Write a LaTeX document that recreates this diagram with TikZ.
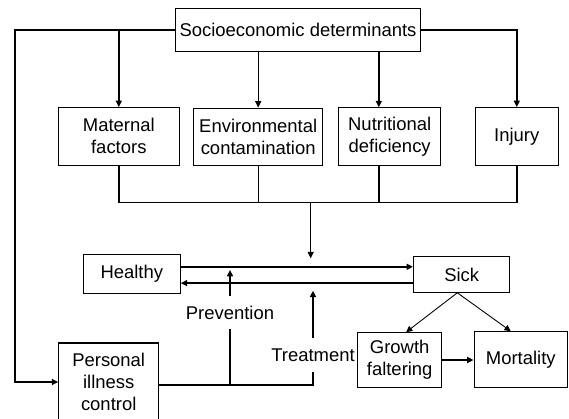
\documentclass[tikz,border=0pt]{standalone}
\usepackage{fontspec}
\setmainfont{Liberation Sans}
\usetikzlibrary{arrows.meta}
\tikzset{
  box/.style={rectangle,draw,line width=.6pt,align=center,inner sep=1pt},
  lbl/.style={inner xsep=1pt,inner ysep=5.6pt},
  thk/.style={line width=.85pt},
  thn/.style={line width=.5pt}
}

\begin{document}
\begin{tikzpicture}[x=.02cm,y=-.02cm,>={Triangle[length=3.6pt,width=3.4pt]},font=\fontsize{10.5}{12.6}\selectfont]
\useasboundingbox (0,0) rectangle (569,419);
%top row
\node[box,minimum width=4.91cm,minimum height=.87cm](socio)at(298,30){Socioeconomic determinants};
\node[box,minimum width=2.41cm,minimum height=1.15cm](maternal)at(118.8,136.3){Maternal\\factors};
\node[box,minimum width=2.57cm,minimum height=1.15cm](env)at(258.2,136.8){Environmental\\contamination};
\node[box,minimum width=2.05cm,minimum height=1.15cm](nutr)at(389.7,136.5){Nutritional\\deficiency};
\node[box,minimum width=1.66cm,minimum height=1.16cm](injury)at(516.8,136.5){Injury};
%middle row
\node[box,minimum width=1.94cm,minimum height=.77cm](healthy)at(131.8,274){Healthy};
\node[box,minimum width=1.93cm,minimum height=.71cm](sick)at(461.7,274.5){Sick};
%bottom row
\node[box,minimum width=2cm,minimum height=1.56cm](personal)at(108.7,382){Personal\\illness\\control};
\node[box,minimum width=1.69cm,minimum height=1.09cm](growth)at(399.7,360){Growth\\faltering};
\node[box,minimum width=1.87cm,minimum height=1.11cm](mortality)at(520.8,359.5){Mortality};
%labels
\node[lbl](prev)at(230,312.5){Prevention};
\node[lbl](treat)at(313,355){Treatment};
%free ends
\coordinate(corner)at(15,30);
\coordinate(bus)at(310.7,202.3);
\coordinate(dtip)at(310.7,258.3);
\coordinate(split)at(313,385);
\coordinate(ptip)at(230,270);
\coordinate(ttip)at(313,290.7);
%determinants
\draw[thk,->](socio.west)--(corner)|-(personal.west);
\draw[thk,->](maternal.north|-socio.west)--(maternal.north);
\draw[thn,->](socio.south-|env.north)--(env.north);
\draw[thk,->]([xshift=-6.2pt]nutr.north|-socio.south)--([xshift=-6.2pt]nutr.north);
\draw[thk,->](socio.east)-|(injury.north);
%bus
\draw[thk](maternal.south)|-(bus)-|(injury.south);
\draw[thn](env.south)--(env.south|-bus);
\draw[thk]([xshift=-6.2pt]nutr.south)--([xshift=-6.2pt]nutr.south|-bus);
\draw[thn,->](bus)--(dtip);
%healthy and sick
\draw[thk,->]([yshift=4.1pt]healthy.east)--([yshift=4.1pt]healthy.east-|sick.west);
\draw[thk,->]([yshift=-4.9pt]sick.west)--([yshift=-4.9pt]sick.west-|healthy.east);
%personal illness control
\draw[thk](personal.east|-split)-|(treat.south);
\draw[thk](prev.south)--(prev.south|-split);
\draw[thk,->](prev.north)--(ptip);
\draw[thk,->](treat.north)--(ttip);
%outcomes
\draw[thn,->]([xshift=-2.5pt]sick.south)--([xshift=3.6pt]growth.north);
\draw[thn,->]([xshift=-2.5pt]sick.south)--([xshift=-5.7pt]mortality.north);
\draw[thk,->](growth.east)--(growth.east-|mortality.west);
\end{tikzpicture}
\end{document}
